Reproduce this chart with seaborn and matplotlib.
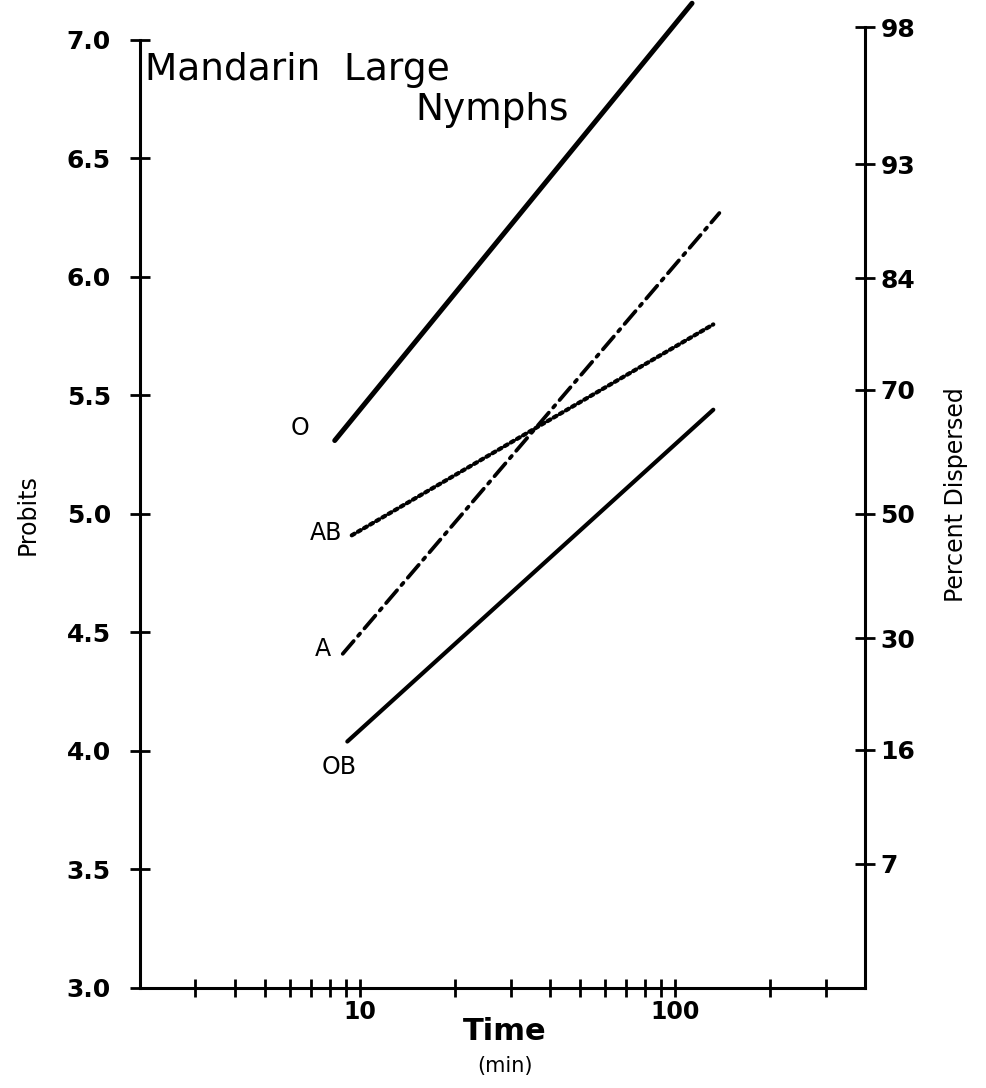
import matplotlib
matplotlib.use("Agg")
import matplotlib.pyplot as plt
import seaborn as sns
import pandas as pd
import numpy as np
from statistics import NormalDist

# ---- data ----
groups = ["O", "AB", "A", "OB"]
time_start = [8.3, 9.4, 8.8, 9.1]          # minutes
time_end = [113, 132, 138, 132]            # minutes
probit_start = [5.31, 4.91, 4.41, 4.04]
probit_end = [7.155, 5.80, 6.27, 5.44]

percent_ticks = [7, 16, 30, 50, 70, 84, 93, 98]
probit_ticks = [3.0, 3.5, 4.0, 4.5, 5.0, 5.5, 6.0, 6.5, 7.0]
time_major = [10, 100]
time_minor = [3, 4, 5, 6, 7, 8, 9, 20, 30, 40, 50, 60, 70, 80, 90, 200, 300]

rows = []
for g, t0, t1, p0, p1 in zip(groups, time_start, time_end, probit_start, probit_end):
    rows.append({"group": g, "time": t0, "probit": p0})
    rows.append({"group": g, "time": t1, "probit": p1})
df = pd.DataFrame(rows)

sns.set_style("ticks", rc={"text.color": "black", "axes.labelcolor": "black",
                           "xtick.color": "black", "ytick.color": "black",
                           "axes.edgecolor": "black"})
plt.rcParams["font.family"] = ["DejaVu Sans"]

W, H = 987, 1088
fig = plt.figure(figsize=(W / 100, H / 100), dpi=100)
left_px, right_px, bottom_px, top_px = 140, 865, 988, 0
ax = fig.add_axes([left_px / W, 1 - bottom_px / H, (right_px - left_px) / W, (bottom_px - top_px) / H])

styles = {
    "O": dict(linestyle="-", linewidth=3.6),
    "AB": dict(linestyle=(0, (0.8, 0.9)), linewidth=3.0),
    "A": dict(linestyle=(0, (4.5, 1.8, 0.8, 1.8)), linewidth=2.7),
    "OB": dict(linestyle="-", linewidth=3.0),
}
label_offsets = {"O": (-35, 13), "AB": (-26, 2), "A": (-20, 5), "OB": (-8, -25)}

for g in groups:
    sub = df[df["group"] == g]
    sns.lineplot(data=sub, x="time", y="probit", ax=ax, color="black",
                 solid_capstyle="round", dash_capstyle="round", **styles[g])
    t0, p0 = sub.iloc[0]["time"], sub.iloc[0]["probit"]
    ax.annotate(g, xy=(t0, p0), xytext=label_offsets[g], textcoords="offset pixels",
                ha="center", va="center", fontsize=17, color="black")

ax.set_xscale("log")
ax.set_xlim(2, 400)
ax.set_ylim(3.0, 7.0 + 40 / 237)

ax.spines["top"].set_visible(False)
for s in ["left", "bottom", "right"]:
    ax.spines[s].set_linewidth(2.2)
    ax.spines[s].set_color("black")
ax.spines["left"].set_bounds(3.0, 7.0)

ax.set_xticks(time_major)
ax.set_xticklabels([str(t) for t in time_major])
ax.set_xticks(time_minor, minor=True)
ax.xaxis.set_minor_formatter(matplotlib.ticker.NullFormatter())
ax.tick_params(axis="x", which="both", direction="inout", length=13, width=2, pad=2,
               labelsize=17, colors="black")
for lab in ax.get_xticklabels():
    lab.set_fontweight("bold")

ax.set_yticks(probit_ticks)
ax.set_yticklabels([f"{v:.1f}" for v in probit_ticks])
ax.tick_params(axis="y", which="both", direction="inout", length=14, width=2, pad=14,
               labelsize=18, colors="black")
for lab in ax.get_yticklabels():
    lab.set_fontweight("bold")
ax.set_xlabel("")
ax.set_ylabel("")

# right axis: percent dispersed at probit positions
ax2 = ax.twinx()
ax2.set_ylim(ax.get_ylim())
pos = [5 + NormalDist().inv_cdf(p / 100) for p in percent_ticks]
ax2.set_yticks(pos)
ax2.set_yticklabels([str(p) for p in percent_ticks])
ax2.tick_params(axis="y", direction="inout", length=14, width=2, pad=4, labelsize=18,
                colors="black")
for lab in ax2.get_yticklabels():
    lab.set_fontweight("bold")
for s in ["top", "left", "bottom"]:
    ax2.spines[s].set_visible(False)
ax2.spines["right"].set_linewidth(2.2)
ax2.spines["right"].set_color("black")
ax2.spines["right"].set_bounds(3.0, pos[-1])
ax.spines["right"].set_visible(False)

# texts
fig.text(145 / W, 1 - 70 / H, "Mandarin  Large", fontsize=27, ha="left", va="center",
         color="black")
fig.text(415 / W, 1 - 110 / H, "Nymphs", fontsize=27, ha="left", va="center", color="black")
fig.text(505 / W, 1 - 1032 / H, "Time", fontsize=22, fontweight="bold", ha="center",
         va="center", color="black")
fig.text(505 / W, 1 - 1066 / H, "(min)", fontsize=15, ha="center", va="center", color="black")
narrow = ["Liberation Sans Narrow", "DejaVu Sans"]
fig.text(28 / W, 1 - 515 / H, "Probits", fontsize=17, rotation=90, ha="center", va="center",
         family=narrow, color="black")
fig.text(956 / W, 1 - 495 / H, "Percent Dispersed", fontsize=17, rotation=90, ha="center",
         va="center", family=narrow, color="black")

fig.savefig("out.png", dpi=100)
